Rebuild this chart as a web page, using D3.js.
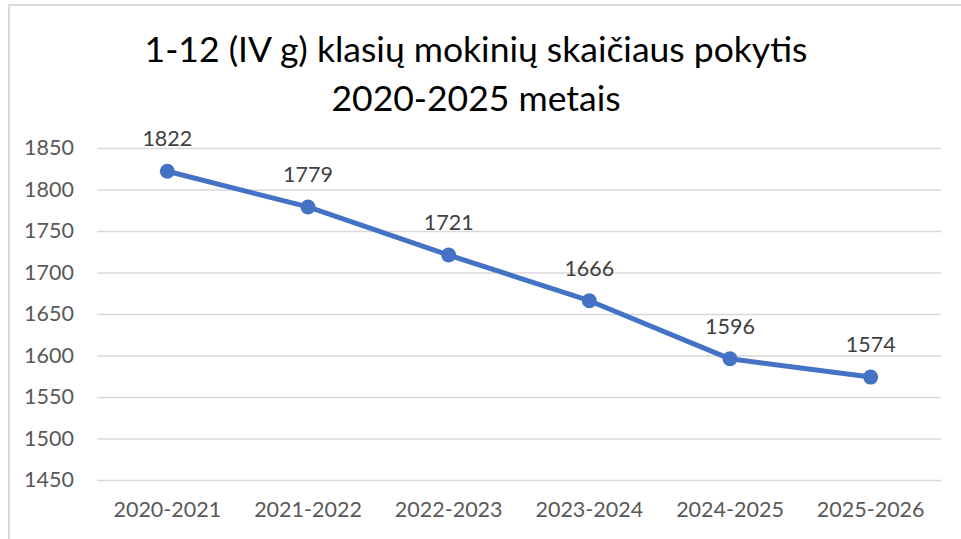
<!DOCTYPE html>
<html>
<head>
<meta charset="utf-8">
<script src="https://cdn.jsdelivr.net/npm/d3@7"></script>
<style>
  body { margin: 0; background: #fff; }
  text { font-family: Lato, "Open Sans", sans-serif; }
</style>
</head>
<body>
<script>
// chart data
const years = ["2020-2021", "2021-2022", "2022-2023", "2023-2024", "2024-2025", "2025-2026"];
const students = [1822, 1779, 1721, 1666, 1596, 1574];
const yTicks = [1450, 1500, 1550, 1600, 1650, 1700, 1750, 1800, 1850];
const titleLines = ["1-12 (IV g) klasių mokinių skaičiaus pokytis", "2020-2025 metais"];

const W = 961, H = 539;
const svg = d3.select("body").append("svg")
    .attr("width", W)
    .attr("height", H);

// outer frame of the chart
svg.append("rect")
    .attr("x", 9).attr("y", 5)
    .attr("width", 1000).attr("height", 600)
    .attr("fill", "none")
    .attr("stroke", "#d9d9d9")
    .attr("stroke-width", 2);

const pLeft = 97, pRight = 941, pTop = 148, pBottom = 480;
const fs = 21.5;

const x = d3.scaleBand().domain(years).range([pLeft, pRight]);
const y = d3.scaleLinear().domain([1450, 1850]).range([pBottom, pTop]);

// title
svg.selectAll(".title")
    .data(titleLines)
    .enter()
    .append("text")
    .attr("class", "title")
    .attr("x", 476)
    .attr("y", (d, i) => 62 + i * 49)
    .attr("text-anchor", "middle")
    .attr("font-size", 35.5)
    .attr("fill", "#000")
    .text(d => d);

// grid + y labels
const yAxis = d3.axisLeft(y).tickValues(yTicks).tickFormat(d3.format("d"))
    .tickSize(-(pRight - pLeft)).tickPadding(23);
const gy = svg.append("g").attr("transform", `translate(${pLeft},0)`).call(yAxis);
gy.select(".domain").remove();
gy.selectAll(".tick line").attr("stroke", "#d9d9d9").attr("stroke-width", 1.5);
gy.selectAll(".tick text")
    .attr("font-size", fs)
    .attr("fill", "#595959")
    .attr("font-family", "Lato, sans-serif");

// x labels
const xAxis = d3.axisBottom(x).tickSize(0).tickPadding(22);
const gx = svg.append("g").attr("transform", `translate(0,${pBottom})`).call(xAxis);
gx.select(".domain").remove();
gx.selectAll(".tick text")
    .attr("font-size", fs)
    .attr("fill", "#595959")
    .attr("font-family", "Lato, sans-serif");

const pts = years.map((d, i) => ({year: d, v: students[i]}));
const cx = d => x(d.year) + x.bandwidth() / 2;

// line
svg.append("path")
    .datum(pts)
    .attr("fill", "none")
    .attr("stroke", "#4472c4")
    .attr("stroke-width", 5)
    .attr("stroke-linejoin", "round")
    .attr("d", d3.line().x(cx).y(d => y(d.v)));

svg.selectAll("circle")
    .data(pts)
    .enter()
    .append("circle")
    .attr("cx", cx)
    .attr("cy", d => y(d.v))
    .attr("r", 7.5)
    .attr("fill", "#4472c4");

// value labels
svg.selectAll(".lbl")
    .data(pts)
    .enter()
    .append("text")
    .attr("class", "lbl")
    .attr("x", cx)
    .attr("y", d => y(d.v) - 25)
    .attr("text-anchor", "middle")
    .attr("font-size", fs)
    .attr("fill", "#404040")
    .text(d => d.v);
</script>
</body>
</html>
